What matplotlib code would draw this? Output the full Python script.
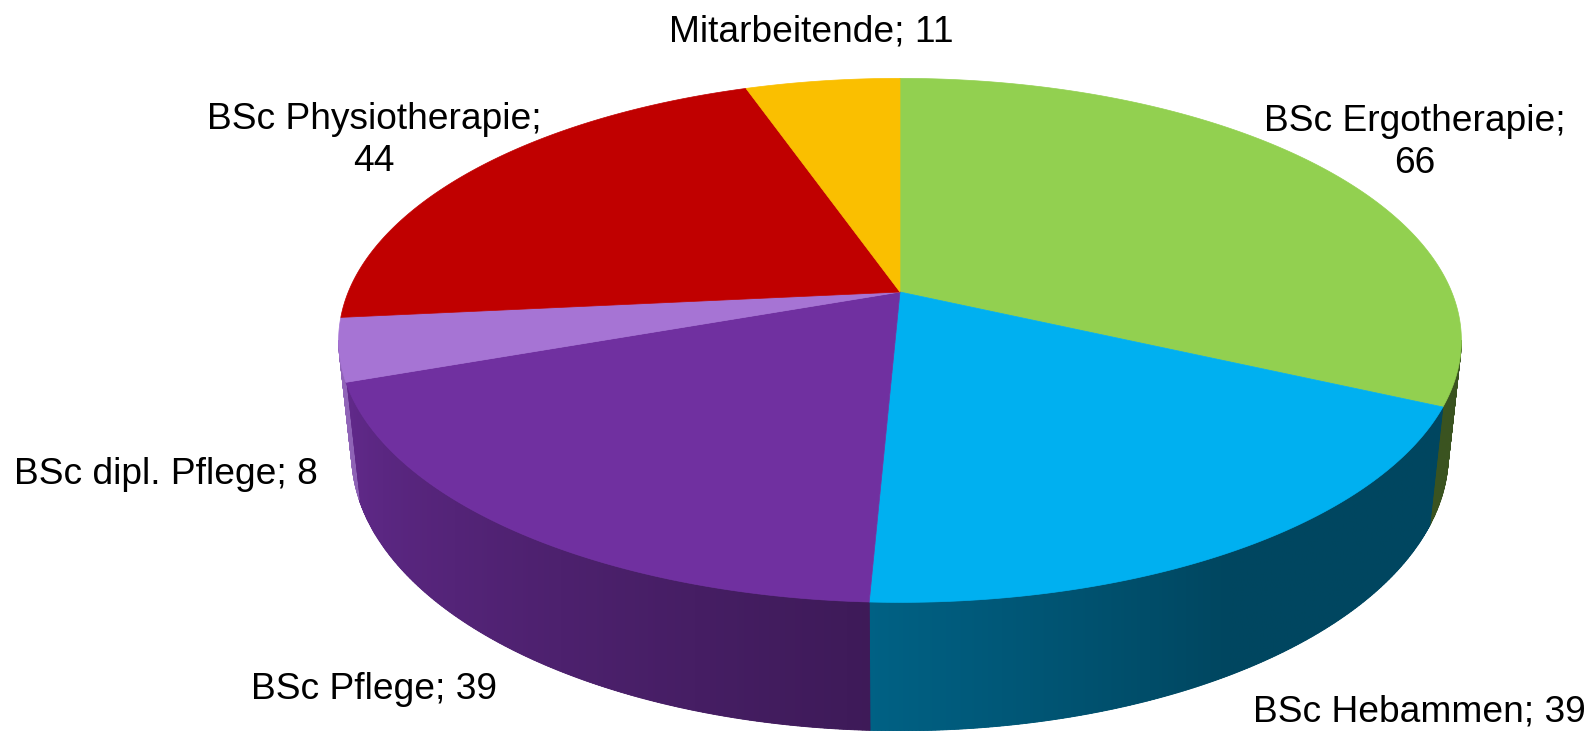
import numpy as np
import matplotlib
matplotlib.use('Agg')
import matplotlib.pyplot as plt
from matplotlib.patches import Polygon

# ---- data ----
categories = ['BSc Ergotherapie', 'BSc Hebammen', 'BSc Pflege',
              'BSc dipl. Pflege', 'BSc Physiotherapie', 'Mitarbeitende']
values = [66, 39, 39, 8, 44, 11]
colors = ['#92D050', '#00B0F0', '#7030A0', '#A674D4', '#C00000', '#FABF00']

# label layout: (x centre, first baseline, line gap, wrap after ';')
label_layout = [(1415, 131, 42, True), (1419, 721, 0, False), (374, 699, 0, False),
                (166, 484, 0, False), (374, 129, 42, True), (811, 42, 0, False)]

# ---- 3D pie geometry (perspective) ----
W, Hpx = 1590, 731
CX, CY = 900, 292
F = 2622.0
D = 4.80
TILT = np.radians(27.6)
S, C = np.sin(TILT), np.cos(TILT)
THICK = 0.237
KX = 1.01


def project(theta_deg, z):
    t = np.radians(theta_deg)
    X, Y = np.sin(t), np.cos(t)
    u = Y * S + z * C
    d = D + Y * C - z * S
    return CX + KX * F * X / d, CY - F * u / d, d


def shade(theta):
    return 0.40 + 0.47 * np.clip((theta - 150.0) / 100.0, 0, 1)


def darker(col, f):
    r, g, b = matplotlib.colors.to_rgb(col)
    f = np.asarray(f)
    return np.stack([r * f, g * f, b * f], axis=-1)


fig = plt.figure(figsize=(W / 100, Hpx / 100), dpi=100)
ax = fig.add_axes([0, 0, 1, 1])
ax.set_xlim(0, W)
ax.set_ylim(Hpx, 0)
ax.axis('off')

total = float(sum(values))
bounds = np.concatenate([[0], np.cumsum(values) / total * 360.0])

# visible front range of the side (silhouette)
th_all = np.linspace(0, 360, 7201)
x_all, _, _ = project(th_all, 0.0)
TH_R = th_all[np.argmax(x_all)]
TH_L = th_all[np.argmin(x_all)]
th_front = np.linspace(TH_R, TH_L, 2000)
x_front, _, _ = project(th_front, 0.0)

# sides
for i, col in enumerate(colors):
    a0, a1 = max(bounds[i], TH_R), min(bounds[i + 1], TH_L)
    if a1 <= a0:
        continue
    n = max(3, int((a1 - a0) * 3) + 1)
    th = np.linspace(a0, a1, n)
    xt, yt, _ = project(th, 0.0)
    xb, yb, _ = project(th, -THICK)
    # base quads (antialiased borders)
    for k in range(n - 1):
        tm = 0.5 * (th[k] + th[k + 1])
        pts = [(xt[k], yt[k]), (xt[k + 1], yt[k + 1]),
               (xb[k + 1], yb[k + 1]), (xb[k], yb[k])]
        c = tuple(darker(col, shade(tm)))
        ax.add_patch(Polygon(pts, closed=True, facecolor=c, edgecolor=c, lw=0.6))
    # smooth gradient clipped to the side polygon
    poly = np.vstack([np.column_stack([xt, yt]), np.column_stack([xb, yb])[::-1]])
    patch = Polygon(poly, closed=True, facecolor='none', edgecolor='none')
    ax.add_patch(patch)
    x0, x1 = poly[:, 0].min() - 1, poly[:, 0].max() + 1
    y0, y1 = poly[:, 1].min() - 1, poly[:, 1].max() + 1
    cols = np.linspace(x0, x1, 600)
    thc = np.interp(cols, x_front[::-1], th_front[::-1])
    img = darker(col, shade(thc))[None, :, :]
    im = ax.imshow(img, extent=(x0, x1, y1, y0), aspect='auto',
                   interpolation='bilinear', zorder=1)
    im.set_clip_path(patch)

# top face
for i, col in enumerate(colors):
    a0, a1 = bounds[i], bounds[i + 1]
    n = max(3, int((a1 - a0) * 3) + 1)
    th = np.linspace(a0, a1, n)
    xt, yt, _ = project(th, 0.0)
    pts = [(CX, CY)] + list(zip(xt, yt))
    ax.add_patch(Polygon(pts, closed=True, facecolor=col, edgecolor=col, lw=0.5,
                         zorder=2))

ax.set_xlim(0, W)
ax.set_ylim(Hpx, 0)

# labels
for cat, val, (lx, ly, gap, wrap) in zip(categories, values, label_layout):
    lines = [f'{cat};', f'{val}'] if wrap else [f'{cat}; {val}']
    for j, line in enumerate(lines):
        ax.text(lx, ly + j * gap, line, ha='center', va='baseline', zorder=3,
                fontsize=26.7, family='Liberation Sans', color='black')

fig.savefig('out.png', dpi=100)
